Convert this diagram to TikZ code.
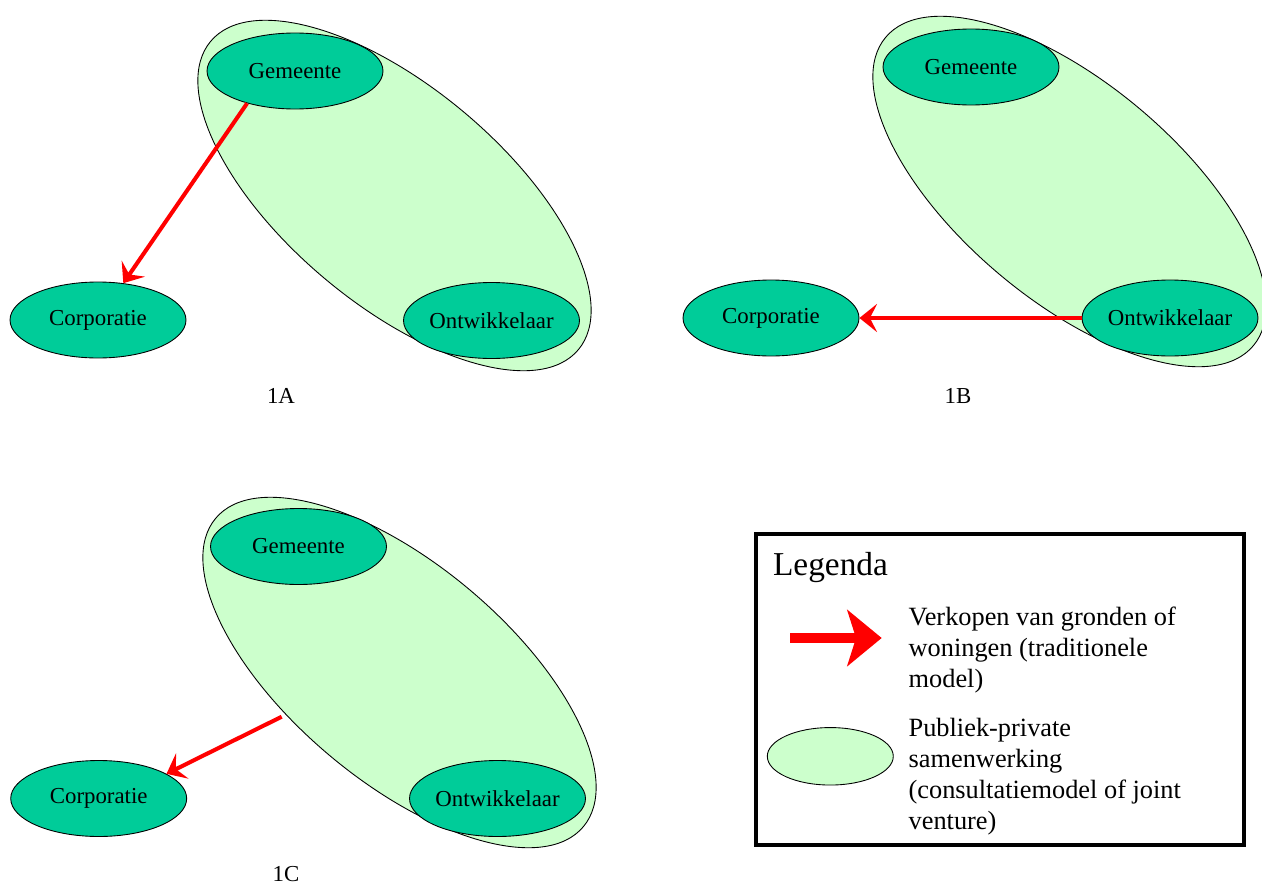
\documentclass[tikz,border=0pt]{standalone}
\usepackage{fontspec}
\setmainfont{Liberation Serif}
\usetikzlibrary{shapes.geometric,arrows.meta}
\definecolor{light green}{RGB}{204, 255, 204}
\definecolor{sea green}{RGB}{0, 204, 153}
\definecolor{sale red}{RGB}{255, 0, 0}

\begin{document}
\begin{tikzpicture}[
        x=0.02cm, y=-0.02cm,
        actor/.style={ellipse, draw, line width=0.5pt, fill=sea green,
            minimum width=3.52cm, minimum height=1.52cm, inner sep=0pt,
            font=\fontsize{13}{15}\selectfont},
        pps/.style={ellipse, draw, line width=0.5pt, fill=light green,
            minimum width=9.6cm, minimum height=4.34cm, rotate=-40},
        sale/.style={draw=sale red, line width=2.3pt,
            -{Stealth[length=10pt, width=16pt, inset=4pt]}},
        caption/.style={anchor=base, font=\fontsize{13}{15}\selectfont},
        legend text/.style={anchor=base west, align=left, inner sep=0pt,
            font=\fontsize{15}{17.6}\selectfont}
    ]
    \useasboundingbox (0,0) rectangle (1262,886);

    % 1A
    \node[pps] (ppsA) at (394.5,195.5) {};
    \node[actor] (gemA) at (295,71) {Gemeente};
    \node[actor] (corpA) at (98,320) {Corporatie};
    \node[actor] (ontA) at (491.5,320.5) {Ontwikkelaar};
    \draw[sale] (gemA.214) -- (corpA);
    \node[caption] (capA) at (281,403) {1A};

    % 1B
    \node[pps] (ppsB) at (1069.5,191.5) {};
    \node[actor] (gemB) at (971,67) {Gemeente};
    \node[actor] (corpB) at (771,318) {Corporatie};
    \node[actor] (ontB) at (1170,318) {Ontwikkelaar};
    \draw[sale] (ontB) -- (corpB);
    \node[caption] (capB) at (958,403) {1B};

    % 1C
    \node[pps] (ppsC) at (399.5,672.5) {};
    \node[actor] (gemC) at (298.5,546.5) {Gemeente};
    \node[actor] (corpC) at (98.7,798.5) {Corporatie};
    \node[actor] (ontC) at (497.5,798.5) {Ontwikkelaar};
    \coordinate (ppsCout) at (281.7,716.7);
    \draw[sale] (ppsCout) -- (corpC.20);
    \node[caption] (capC) at (286,881.5) {1C};

    % legenda
    \node[draw, line width=2pt, minimum width=9.76cm, minimum height=6.22cm,
        inner sep=0pt] (legend) at (1000,689.5) {};
    \node[anchor=base west, inner sep=0pt, font=\fontsize{19}{22}\selectfont]
        (legendtitle) at (772.7,575) {Legenda};
    \coordinate (keyfrom) at (790,638);
    \coordinate (keyto) at (881.7,638);
    \draw[draw=sale red, line width=5.3pt,
        -{Stealth[length=19.6pt, width=32pt, inset=5pt]}] (keyfrom) -- (keyto);
    \node[legend text] (keysale) at (908.3,687.3)
        {Verkopen van gronden of\\woningen (traditionele\\model)};
    \node[pps, rotate=40, minimum width=2.52cm, minimum height=1.15cm]
        (keypps) at (830.3,756.3) {};
    \node[legend text] (keyppstext) at (908.3,829)
        {Publiek-private\\samenwerking\\(consultatiemodel of joint\\venture)};
\end{tikzpicture}
\end{document}
